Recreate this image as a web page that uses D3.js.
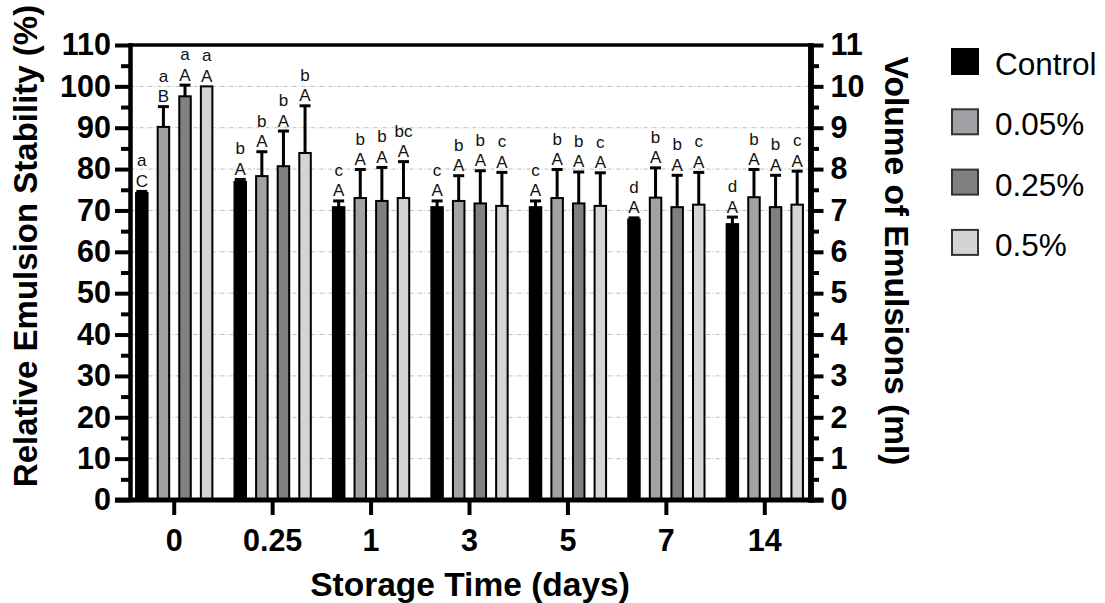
<!DOCTYPE html>
<html>
<head>
<meta charset="utf-8">
<script src="https://cdn.jsdelivr.net/npm/d3@7"></script>
<style>
  body { margin: 0; background: #fff; }
  svg { display: block; }
  text { font-family: "Liberation Sans", Arial, Helvetica, sans-serif; }
</style>
</head>
<body>
<svg id="chart" width="1105" height="603"></svg>
<script>
// Storage time groups and emulsifier levels
const days = ["0", "0.25", "1", "3", "5", "7", "14"];
const series = ["Control", "0.05%", "0.25%", "0.5%"];
const seriesFill = ["#000000", "#a2a2a6", "#808080", "#d4d4d4"];

// Mean relative emulsion stability (%) per level
const controlMean = [74.2, 76.9, 70.8, 70.8, 70.8, 67.8, 66.7];
const p005Mean    = [90.2, 78.3, 73.0, 72.3, 73.0, 73.1, 73.2];
const p025Mean    = [97.6, 80.7, 72.3, 71.7, 71.7, 70.8, 70.8];
const p05Mean     = [100.0, 83.9, 73.0, 71.1, 71.1, 71.4, 71.4];

// Standard deviations (upper error bars)
const controlSD = [0.4, 0.6, 1.5, 1.5, 1.5, 0.4, 1.7];
const p005SD    = [4.9, 5.9, 6.9, 6.1, 6.9, 7.2, 6.7];
const p025SD    = [2.7, 8.5, 8.1, 7.9, 7.6, 7.7, 7.7];
const p05SD     = [0.0, 11.4, 8.8, 8.1, 8.0, 7.8, 8.1];

// Significance letters: lowercase = across time, uppercase = across levels
const controlLower = ["a", "b", "c", "c", "c", "d", "d"];
const p005Lower    = ["a", "b", "b", "b", "b", "b", "b"];
const p025Lower    = ["a", "b", "b", "b", "b", "b", "b"];
const p05Lower     = ["a", "b", "bc", "c", "c", "c", "c"];
const controlUpper = ["C", "A", "A", "A", "A", "A", "A"];
const p005Upper    = ["B", "A", "A", "A", "A", "A", "A"];
const p025Upper    = ["A", "A", "A", "A", "A", "A", "A"];
const p05Upper     = ["A", "A", "A", "A", "A", "A", "A"];

const leftTicks = d3.range(0, 111, 10);
const rightTicks = d3.range(0, 12, 1);

const means = [controlMean, p005Mean, p025Mean, p05Mean];
const sds = [controlSD, p005SD, p025SD, p05SD];
const lowers = [controlLower, p005Lower, p025Lower, p05Lower];
const uppers = [controlUpper, p005Upper, p025Upper, p05Upper];

const rows = [];
days.forEach((d, i) => {
  series.forEach((s, j) => {
    rows.push({ day: d, series: s, idx: j, mean: means[j][i], sd: sds[j][i],
                lower: lowers[j][i], upper: uppers[j][i] });
  });
});

const svg = d3.select("#chart");
const plotL = 130.5, plotR = 811, plotT = 45, plotB = 500;

const x0 = d3.scaleBand().domain(days).range([125, 814]).paddingInner(0).paddingOuter(0);
const x1 = d3.scaleBand().domain(series).range([-39.15, 39.15]).paddingInner(0.375).paddingOuter(0);
const y = d3.scaleLinear().domain([0, 110]).range([plotB, plotT]);
const yR = d3.scaleLinear().domain([0, 11]).range([plotB, plotT]);

// Dotted horizontal gridlines
svg.append("g").selectAll("line")
  .data(leftTicks.filter(t => t > 0 && t < 110))
  .join("line")
  .attr("x1", plotL).attr("x2", plotR)
  .attr("y1", d => y(d)).attr("y2", d => y(d))
  .attr("stroke", "#bcbcbc").attr("stroke-width", 1)
  .attr("stroke-dasharray", "4,2,1,2");

// Bars
const groups = svg.append("g").selectAll("g")
  .data(days).join("g")
  .attr("transform", d => `translate(${x0(d) + x0.bandwidth() / 2},0)`);

const barData = d => rows.filter(r => r.day === d);

groups.selectAll("rect")
  .data(barData).join("rect")
  .attr("x", d => x1(d.series) + 1)
  .attr("width", x1.bandwidth() - 2)
  .attr("y", d => y(d.mean))
  .attr("height", d => y(0) - y(d.mean))
  .attr("fill", d => seriesFill[d.idx])
  .attr("stroke", "#000").attr("stroke-width", 2);

// Upper error bars
const err = groups.selectAll("g.err")
  .data(d => barData(d).filter(r => r.sd > 0)).join("g").attr("class", "err");
err.append("line")
  .attr("x1", d => x1(d.series) + x1.bandwidth() / 2)
  .attr("x2", d => x1(d.series) + x1.bandwidth() / 2)
  .attr("y1", d => y(d.mean))
  .attr("y2", d => y(d.mean + d.sd))
  .attr("stroke", "#000").attr("stroke-width", 3);
err.append("line")
  .attr("x1", d => x1(d.series) + x1.bandwidth() / 2 - 5.5)
  .attr("x2", d => x1(d.series) + x1.bandwidth() / 2 + 5.5)
  .attr("y1", d => y(d.mean + d.sd))
  .attr("y2", d => y(d.mean + d.sd))
  .attr("stroke", "#000").attr("stroke-width", 3);

// Letter annotations
const lab = groups.selectAll("g.lab").data(barData).join("g").attr("class", "lab")
  .attr("transform", d => `translate(${x1(d.series) + x1.bandwidth() / 2},${y(d.mean + d.sd) - 4.5})`);
lab.append("text").text(d => d.upper)
  .attr("text-anchor", "middle").attr("font-size", 17).attr("fill", "#111");
lab.append("text").text(d => d.lower)
  .attr("y", -20.5)
  .attr("text-anchor", "middle").attr("font-size", 17).attr("fill", "#111");

// Frame: top line
svg.append("line").attr("x1", plotL - 2).attr("x2", plotR).attr("y1", plotT).attr("y2", plotT)
  .attr("stroke", "#000").attr("stroke-width", 3.5);

// Left axis (major with labels, minor without)
const gL = svg.append("g").attr("transform", `translate(${plotL},0)`);
gL.call(d3.axisLeft(y).tickValues(d3.range(5, 110, 10)).tickSize(9.5).tickFormat(""));
const gLM = svg.append("g").attr("transform", `translate(${plotL},0)`);
gLM.call(d3.axisLeft(y).tickValues(leftTicks).tickSize(15.5).tickPadding(4).tickFormat(d3.format("d")));
[gL, gLM].forEach(g => {
  g.select(".domain").attr("stroke-width", 4).attr("d", `M0,${plotB}V${plotT - 1.75}`);
  g.selectAll(".tick line").attr("stroke-width", 4);
});
gLM.selectAll(".tick text").attr("font-size", 30.5).attr("font-weight", "bold")
  .attr("font-family", '"Liberation Sans", Arial, sans-serif').attr("fill", "#000");

// Right axis
const gR = svg.append("g").attr("transform", `translate(${plotR},0)`);
gR.call(d3.axisRight(yR).tickValues(d3.range(0.5, 11, 1)).tickSize(8).tickFormat(""));
const gRM = svg.append("g").attr("transform", `translate(${plotR},0)`);
gRM.call(d3.axisRight(yR).tickValues(rightTicks).tickSize(12.5).tickPadding(7).tickFormat(d3.format("d")));
[gR, gRM].forEach(g => {
  g.select(".domain").attr("stroke-width", 5.5).attr("d", `M0,${plotB + 2.5}V${plotT - 1.75}`);
  g.selectAll(".tick line").attr("stroke-width", 4);
});
gRM.selectAll(".tick text").attr("font-size", 30.5).attr("font-weight", "bold")
  .attr("font-family", '"Liberation Sans", Arial, sans-serif').attr("fill", "#000");

// Bottom axis
const gB = svg.append("g").attr("transform", `translate(0,${plotB})`);
gB.call(d3.axisBottom(x0).tickSize(15).tickPadding(14));
gB.select(".domain").attr("stroke-width", 5).attr("d", `M${plotL - 15.5},0H${plotR + 12.5}`);
gB.selectAll(".tick line").attr("stroke-width", 4);
gB.selectAll(".tick text").attr("font-size", 30.5).attr("font-weight", "bold")
  .attr("font-family", '"Liberation Sans", Arial, sans-serif').attr("fill", "#000");

// Axis titles
svg.append("text").text("Storage Time (days)")
  .attr("x", 470).attr("y", 596).attr("text-anchor", "middle")
  .attr("font-size", 33.5).attr("font-weight", "bold");
svg.append("text").text("Relative Emulsion Stability (%)")
  .attr("transform", "translate(37,246) rotate(-90)").attr("text-anchor", "middle")
  .attr("font-size", 33).attr("font-weight", "bold");
svg.append("text").text("Volume of Emulsions (ml)")
  .attr("transform", "translate(885,261) rotate(90)").attr("text-anchor", "middle")
  .attr("font-size", 33.5).attr("font-weight", "bold");

// Legend
const leg = svg.append("g").selectAll("g").data(series).join("g")
  .attr("transform", (d, i) => `translate(951,${48 + i * 60.3})`);
leg.append("rect").attr("x", 1).attr("y", 1).attr("width", 26).attr("height", 25)
  .attr("fill", (d, i) => seriesFill[i]).attr("stroke", (d, i) => i === 0 ? "#000" : "#333")
  .attr("stroke-width", 2);
leg.append("text").text(d => d).attr("x", 44).attr("y", 27)
  .attr("font-size", 31.5).attr("fill", "#000");
</script>
</body>
</html>
